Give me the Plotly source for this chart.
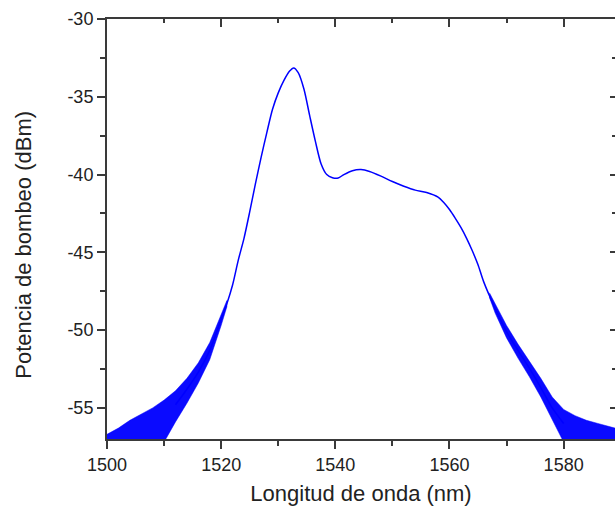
import plotly.graph_objects as go

# ---- data ----
# smooth core of the spectrum (wavelength nm, power dBm)
wl_core = [1512, 1514, 1516, 1518, 1520, 1521, 1522, 1523, 1524, 1525, 1526, 1527,
           1528, 1529, 1530, 1531, 1532, 1532.7, 1533.5, 1534.5, 1535.5, 1536.5,
           1537.5, 1538.5, 1539.5, 1540.5, 1541.5, 1543, 1544.5, 1546, 1548, 1550,
           1552, 1554, 1556, 1558, 1559, 1560, 1561, 1562, 1563, 1564, 1565, 1566,
           1568, 1570, 1572, 1574, 1576, 1578, 1580]
p_core = [-54.8, -53.8, -52.7, -51.3, -49.3, -48.3, -47.1, -45.5, -44.1, -42.4, -40.6, -38.9,
          -37.3, -35.8, -34.75, -33.95, -33.35, -33.15, -33.45, -34.5, -36.2, -37.85,
          -39.3, -40.0, -40.2, -40.22, -40.0, -39.75, -39.68, -39.8, -40.1, -40.45,
          -40.75, -41.0, -41.15, -41.45, -41.8, -42.25, -42.8, -43.4, -44.1, -44.9, -45.8, -46.9,
          -48.6, -50.1, -51.3, -52.45, -53.7, -55.0, -56.0]

# noisy tails: upper / lower envelope of the noise band
wl_left = [1500, 1502, 1504, 1506, 1508, 1510, 1512, 1514, 1516, 1518, 1520, 1521]
left_upper = [-56.7, -56.3, -55.8, -55.4, -55.0, -54.5, -53.9, -53.1, -52.1, -50.8, -49.0, -48.1]
left_lower = [-57.5, -57.5, -57.5, -57.5, -57.5, -57.2, -55.9, -54.7, -53.4, -51.9, -49.7, -48.5]

wl_right = [1567, 1568, 1570, 1572, 1574, 1576, 1578, 1580, 1582, 1584, 1586, 1588, 1590]
right_upper = [-47.6, -48.3, -49.7, -50.9, -52.0, -53.1, -54.3, -55.1, -55.5, -55.8, -56.0, -56.2, -56.4]
right_lower = [-47.9, -48.9, -50.5, -51.8, -53.0, -54.3, -55.7, -57.2, -57.5, -57.5, -57.5, -57.5, -57.5]

x_ticks = [1500, 1520, 1540, 1560, 1580]
y_ticks = [-30, -35, -40, -45, -50, -55]

BLUE = "#0000FF"
AX = "#3a3a3a"
FONT = "Liberation Sans, Arial, sans-serif"

fig = go.Figure()

def band(xs, up, lo):
    return go.Scatter(
        x=list(xs) + list(xs)[::-1],
        y=list(up) + list(lo)[::-1],
        mode="lines", fill="toself",
        fillcolor="rgba(0,0,255,0.96)",
        line=dict(color="rgba(0,0,255,0.96)", width=0.5),
        hoverinfo="skip", showlegend=False,
    )

fig.add_trace(band(wl_left, left_upper, left_lower))
fig.add_trace(band(wl_right, right_upper, right_lower))
fig.add_trace(go.Scatter(
    x=wl_core, y=p_core, mode="lines",
    line=dict(color=BLUE, width=1.5, shape="spline", smoothing=0.8),
    showlegend=False,
))
# dummy trace so the mirrored (top/right) axes are drawn
fig.add_trace(go.Scatter(x=[], y=[], xaxis="x2", yaxis="y2", showlegend=False))

tickfont = dict(family=FONT, size=18, color="#222222")

fig.update_layout(
    width=615, height=510,
    margin=dict(l=107, r=0, t=19, b=71),
    paper_bgcolor="white", plot_bgcolor="white",
    showlegend=False,
    xaxis=dict(
        range=[1500, 1589], tickvals=x_ticks, ticktext=[str(v) for v in x_ticks],
        ticks="outside", ticklen=8, tickwidth=1.5,
        tickcolor=AX, showline=True, linewidth=2, linecolor=AX, showgrid=False, zeroline=False,
        minor=dict(dtick=10, tick0=1500, ticks="outside", ticklen=5, tickwidth=1.5, tickcolor=AX, showgrid=False),
        tickfont=tickfont,
        title=dict(text="Longitud de onda (nm)", font=dict(family=FONT, size=22, color="#222222"), standoff=12),
    ),
    yaxis=dict(
        range=[-57, -30], tickvals=y_ticks, ticktext=[str(v) for v in y_ticks],
        ticks="outside", ticklen=8, tickwidth=1.5,
        tickcolor=AX, showline=True, linewidth=2, linecolor=AX, showgrid=False, zeroline=False,
        minor=dict(dtick=2.5, tick0=-30, ticks="outside", ticklen=5, tickwidth=1.5, tickcolor=AX, showgrid=False),
        tickfont=tickfont,
    ),
    xaxis2=dict(
        overlaying="x", side="top", range=[1500, 1589], tickvals=x_ticks, ticks="inside",
        ticklen=8, tickwidth=1.5, tickcolor=AX, showline=True, linewidth=2, linecolor=AX,
        showticklabels=False, showgrid=False, zeroline=False,
        minor=dict(dtick=10, tick0=1500, ticks="inside", ticklen=4, tickwidth=1.5, tickcolor=AX, showgrid=False),
    ),
    yaxis2=dict(
        overlaying="y", side="right", range=[-57, -30], tickvals=y_ticks, ticks="inside",
        ticklen=5, tickwidth=1.5, tickcolor=AX, showline=False,
        showticklabels=False, showgrid=False, zeroline=False,
        minor=dict(dtick=2.5, tick0=-30, ticks="inside", ticklen=3, tickwidth=1.5, tickcolor=AX, showgrid=False),
    ),
    annotations=[dict(
        text="Potencia de bombeo (dBm)", textangle=-90,
        xref="paper", yref="paper", x=-0.165, y=0.463,
        xanchor="center", yanchor="middle", showarrow=False,
        font=dict(family=FONT, size=22, color="#222222"),
    )],
)

fig.write_html("out.html")
